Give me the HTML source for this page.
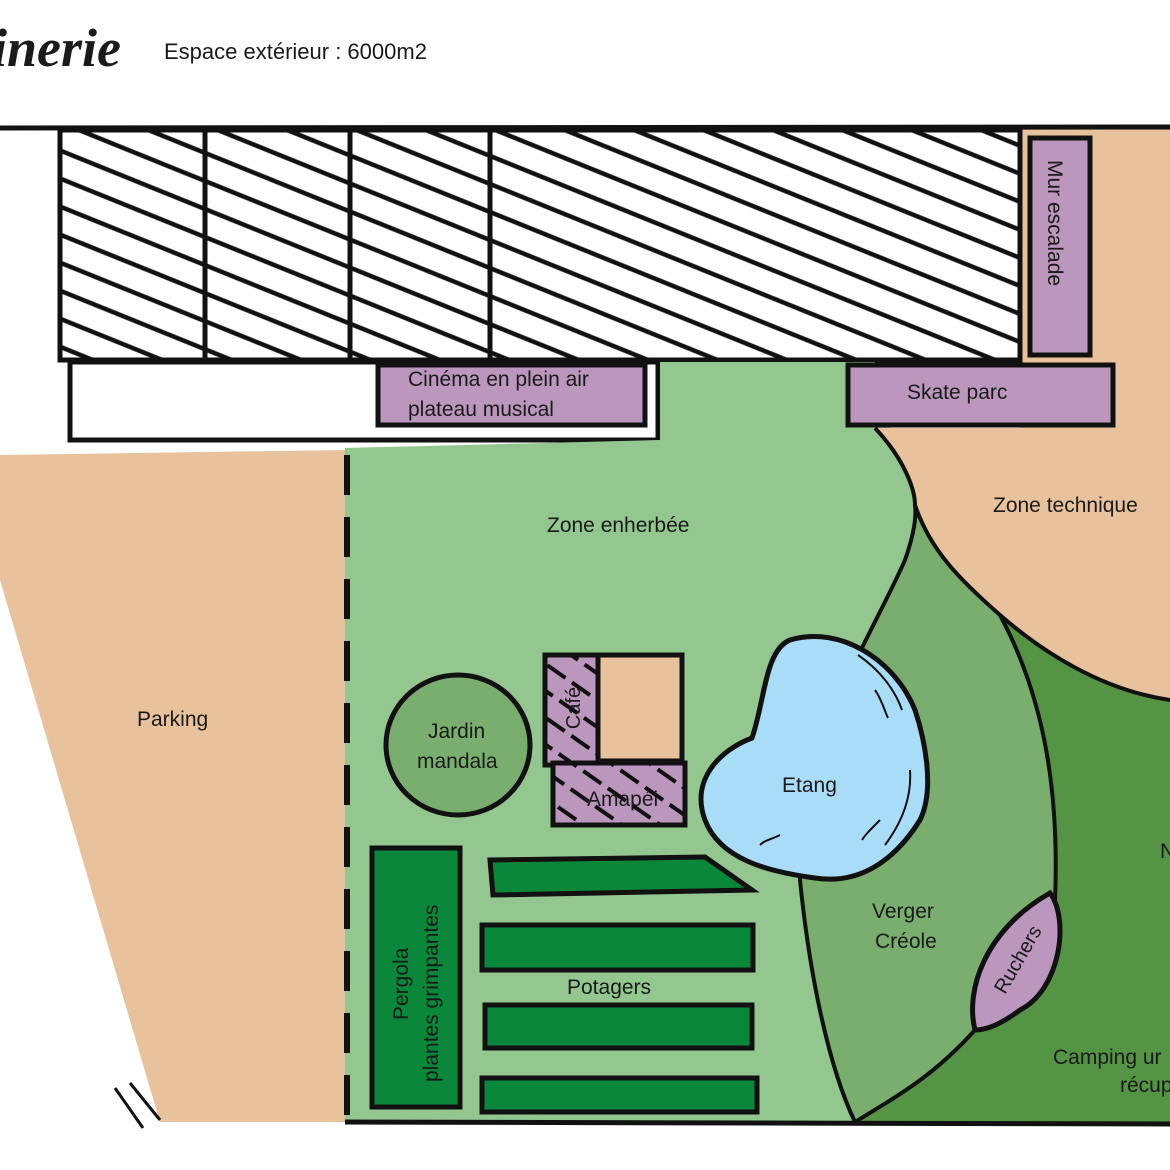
<!DOCTYPE html>
<html><head><meta charset="utf-8"><style>
html,body{margin:0;padding:0;background:#fff}
svg{display:block}
text{font-family:"Liberation Sans",sans-serif;fill:#1a1a1a}
</style></head><body>
<svg width="1170" height="1170" viewBox="0 0 1170 1170" xmlns="http://www.w3.org/2000/svg">
<defs>
<pattern id="hatch" patternUnits="userSpaceOnUse" width="40" height="26" patternTransform="rotate(22)">
<rect width="40" height="26" fill="#fff"/>
<line x1="0" y1="13" x2="40" y2="13" stroke="#111" stroke-width="4.5"/>
</pattern>
<pattern id="phatch" patternUnits="userSpaceOnUse" width="30" height="22" patternTransform="rotate(35)">
<rect width="30" height="22" fill="#bb97bd"/>
<line x1="0" y1="11" x2="30" y2="11" stroke="#111" stroke-width="4" stroke-dasharray="12 8"/>
</pattern>
</defs>
<rect width="1170" height="1170" fill="#fff"/>
<text x="-8" y="66" font-style="italic" font-weight="bold" font-size="54" style="font-family:'Liberation Serif',serif">inerie</text>
<text x="164" y="59" font-size="22">Espace extérieur : 6000m2</text>

<rect x="1020" y="128" width="150" height="300" fill="#e8c29c"/>
<rect x="650" y="360" width="240" height="80" fill="#94c68f"/>
<rect x="60" y="130" width="960" height="230" fill="url(#hatch)" stroke="#111" stroke-width="5"/>
<line x1="205" y1="130" x2="205" y2="360" stroke="#111" stroke-width="5"/>
<line x1="350" y1="130" x2="350" y2="360" stroke="#111" stroke-width="5"/>
<line x1="490" y1="130" x2="490" y2="360" stroke="#111" stroke-width="5"/>
<line x1="0" y1="128" x2="1170" y2="127" stroke="#111" stroke-width="5"/>
<rect x="70" y="362" width="588" height="78" fill="#fff" stroke="#111" stroke-width="5"/>

<polygon points="0,455 345,450 345,1122 160,1122 0,580" fill="#e8c29c"/>
<path d="M345,448 L660,440 L660,362 L875,362 L875,428 C905,460 915,490 915,505 C917,520 912,540 905,560 C870,640 790,760 800,880 C810,980 830,1070 855,1122 L345,1122 Z" fill="#94c68f"/>
<path d="M875,428 L1170,428 L1170,700 C1100,690 1040,650 1000,615 C960,580 930,550 915,505 C915,490 905,460 875,428 Z" fill="#e8c29c"/>
<path d="M915,505 C930,550 960,580 1000,615 C1040,690 1060,780 1055,900 L975,1030 C930,1080 890,1100 855,1122 C830,1070 810,980 800,880 C790,760 870,640 905,560 C912,540 917,520 915,505 Z" fill="#7aae6e"/>
<path d="M1000,615 C1040,650 1100,690 1170,700 L1170,1122 L855,1122 C890,1100 930,1080 975,1030 L1055,900 C1060,780 1040,690 1000,615 Z" fill="#559445"/>
<g fill="none" stroke="#111" stroke-width="4">
<path d="M875,428 C905,460 915,490 915,505 C930,550 960,580 1000,615 C1040,650 1100,690 1170,700"/>
<path d="M915,505 C917,520 912,540 905,560 C870,640 790,760 800,880 C810,980 830,1070 855,1122"/>
<path d="M1000,615 C1040,690 1060,780 1055,900"/>
<path d="M975,1030 C930,1080 890,1100 855,1122"/>
</g>
<line x1="345" y1="1122" x2="1170" y2="1124" stroke="#111" stroke-width="5"/>
<line x1="347" y1="455" x2="347" y2="1122" stroke="#111" stroke-width="6" stroke-dasharray="40 22"/>

<rect x="1030" y="138" width="60" height="217" fill="#bb97bd" stroke="#111" stroke-width="5"/>
<text transform="translate(1048,160) rotate(90)" font-size="21">Mur escalade</text>
<rect x="378" y="365" width="267" height="60" fill="#bb97bd" stroke="#111" stroke-width="5"/>
<text x="408" y="386" font-size="21">Cinéma en plein air</text>
<text x="408" y="416" font-size="21">plateau musical</text>
<rect x="848" y="365" width="265" height="60" fill="#bb97bd" stroke="#111" stroke-width="5"/>
<text x="907" y="399" font-size="21">Skate parc</text>

<text x="137" y="726" font-size="21">Parking</text>
<text x="547" y="532" font-size="21">Zone enherbée</text>
<text x="993" y="512" font-size="21">Zone technique</text>

<ellipse cx="458" cy="745" rx="72" ry="70" fill="#7aae6e" stroke="#111" stroke-width="5"/>
<text x="428" y="738" font-size="21">Jardin</text>
<text x="417" y="768" font-size="21">mandala</text>
<rect x="545" y="655" width="53" height="110" fill="url(#phatch)" stroke="#111" stroke-width="5"/>
<text transform="translate(580,708) rotate(-90)" font-size="20" text-anchor="middle">Café</text>
<rect x="598" y="655" width="84" height="106" fill="#e8c29c" stroke="#111" stroke-width="5"/>
<rect x="553" y="763" width="132" height="62" fill="url(#phatch)" stroke="#111" stroke-width="5"/>
<text x="587" y="806" font-size="21">Amapéi</text>

<rect x="372" y="848" width="88" height="259" fill="#0b873b" stroke="#111" stroke-width="5"/>
<text transform="translate(408,1020) rotate(-90)" font-size="21">Pergola</text>
<text transform="translate(438,1082) rotate(-90)" font-size="21">plantes grimpantes</text>
<polygon points="490,860 705,857 752,890 493,895" fill="#0b873b" stroke="#111" stroke-width="5"/>
<rect x="482" y="925" width="271" height="45" fill="#0b873b" stroke="#111" stroke-width="5"/>
<text x="567" y="994" font-size="21">Potagers</text>
<rect x="485" y="1005" width="267" height="43" fill="#0b873b" stroke="#111" stroke-width="5"/>
<rect x="482" y="1078" width="275" height="34" fill="#0b873b" stroke="#111" stroke-width="5"/>

<path d="M790,640 C840,625 895,660 915,710 C925,740 935,790 920,820 C895,860 860,885 815,878 C770,872 720,860 705,820 C690,780 720,750 752,738 C765,700 765,650 790,640 Z" fill="#a9dcf7" stroke="#111" stroke-width="5"/>
<path d="M858,655 C880,670 895,690 902,710 M875,690 C882,700 885,712 888,718 M910,770 C912,800 900,825 885,845 M880,820 C870,830 865,835 862,840 M780,835 C770,840 765,840 760,845" stroke="#111" stroke-width="2" fill="none"/>
<text x="782" y="792" font-size="21">Etang</text>
<text x="872" y="918" font-size="21">Verger</text>
<text x="875" y="948" font-size="21">Créole</text>

<path d="M1050,893 C1070,920 1060,990 1020,1010 C1000,1025 985,1030 975,1030 C965,990 985,930 1050,893 Z" fill="#bb97bd" stroke="#111" stroke-width="5"/>
<text transform="translate(1005,995) rotate(-60)" font-size="20">Ruchers</text>
<text x="1053" y="1064" font-size="21">Camping ur</text>
<text x="1120" y="1092" font-size="21">récup</text>
<text x="1160" y="858" font-size="21">N</text>

<line x1="115" y1="1088" x2="143" y2="1128" stroke="#111" stroke-width="3"/>
<line x1="130" y1="1083" x2="160" y2="1120" stroke="#111" stroke-width="3"/>
</svg>
</body></html>
